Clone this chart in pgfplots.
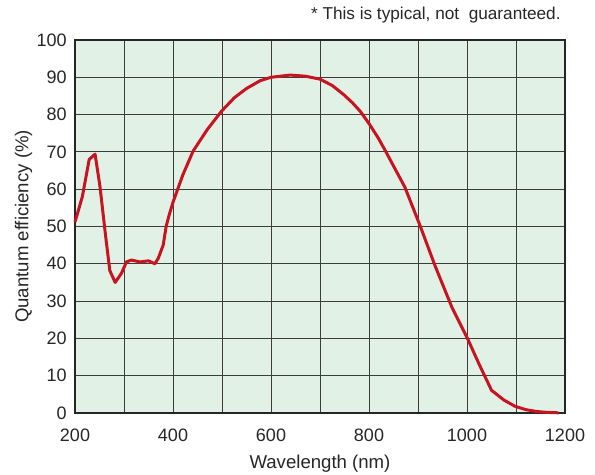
\documentclass[border=0pt]{standalone}
\usepackage{fontspec}
\setmainfont{Liberation Sans}
\usepackage{pgfplots}
\pgfplotsset{compat=1.18}
\definecolor{bggreen}{RGB}{226,241,230}
\definecolor{qered}{RGB}{200,20,32}
\definecolor{gridgray}{RGB}{60,60,60}
\begin{document}
\fontsize{9bp}{11bp}\selectfont
\begin{tikzpicture}
\path[use as bounding box] (-37.5bp,-31bp) rectangle (260bp,206.5bp);
\begin{axis}[
    at={(0,0)}, anchor=south west,
    scale only axis,
    width=245bp, height=186.5bp,
    xmin=200, xmax=1200, ymin=0, ymax=100,
    xtick={200,400,...,1200},
    minor xtick={300,500,...,1100},
    ytick={0,10,...,100},
    grid=both,
    major grid style={gridgray, line width=0.5bp},
    minor grid style={gridgray, line width=0.5bp},
    major tick length=0pt, minor tick length=0pt,
    axis background/.style={fill=bggreen},
    axis line style={black!85, line width=1bp},
    tick label style={font=\fontsize{9bp}{11bp}\selectfont, text=black!85},
    label style={font=\fontsize{9.3bp}{11bp}\selectfont, text=black!85},
    /pgf/number format/assume math mode=true,
    /pgf/number format/1000 sep={},
    xticklabel style={yshift=-5bp},
    yticklabel style={xshift=-1bp},
    xlabel={Wavelength (nm)},
    ylabel={Quantum efficiency (\%)},
    xlabel style={yshift=0bp},
    ylabel style={yshift=-4bp},
    clip=false,
]
\addplot[qered, line width=1.5bp, line join=round] coordinates {
    (200,51.2) (215,58) (229,68) (236,68.8) (241,69.4) (251,60.7) (262,48)
    (271,38.2) (282,35) (295,37.5) (305,40.5) (315,41) (333,40.5) (350,40.8)
    (363,40) (370,41.5) (380,45) (386,50) (392,53) (400,56.5) (420,63.8)
    (441,70.2) (470,76) (499,80.9) (525,84.5) (550,87) (578,89.1) (600,90)
    (639,90.6) (670,90.3) (700,89.5) (725,87.8) (748,85.4) (766,83.2)
    (782,80.9) (800,77.6) (819,73.7) (833,70.4) (855,65) (873,60.6) (904,50.3)
    (935,39.4) (969,28.4) (1001,20) (1025,13) (1050,6.1) (1075,3.5)
    (1098,1.8) (1120,0.9) (1142,0.4) (1165,0.15) (1187,0.05)
};
\end{axis}
\node[anchor=base east, text=black!85, font=\fontsize{8.6bp}{10bp}\selectfont]
    at (246bp,196.5bp) {* This is typical, not\ \ guaranteed.};
\end{tikzpicture}
\end{document}
